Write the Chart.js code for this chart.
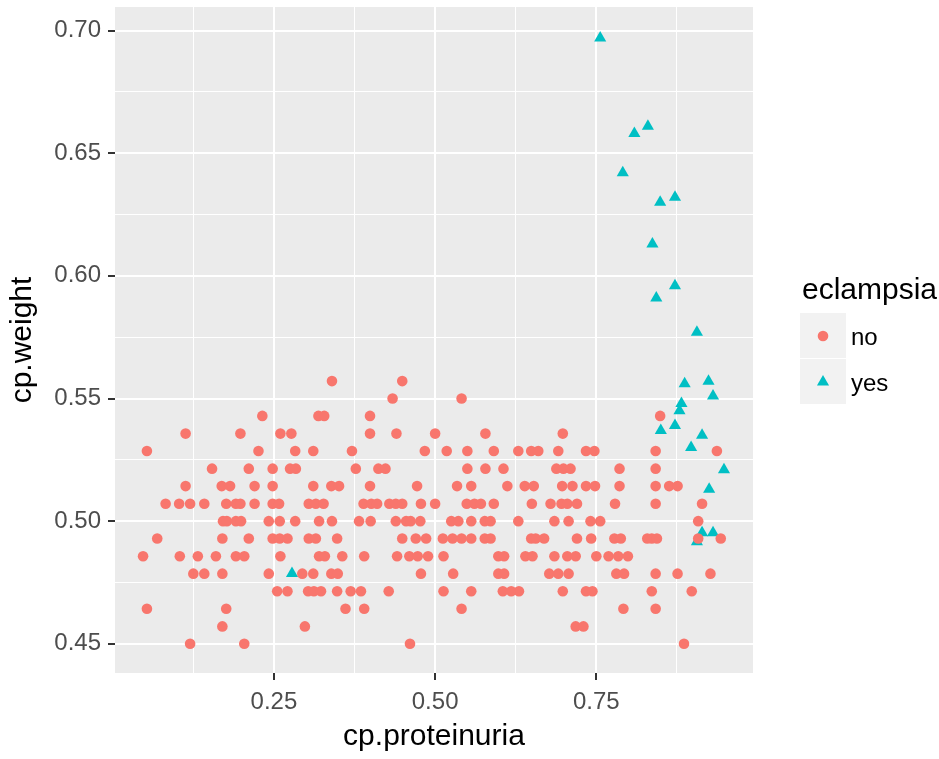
<!DOCTYPE html>
<html>
<head>
<meta charset="utf-8">
<title>cp.weight vs cp.proteinuria</title>
<script src="https://cdn.jsdelivr.net/npm/chart.js@4.4.1/dist/chart.umd.min.js"></script>
<style>
  html, body { margin: 0; padding: 0; background: #ffffff; }
  #wrap { width: 939px; height: 759px; }
</style>
</head>
<body>
<div id="wrap"><canvas id="plot" width="939" height="759"></canvas></div>
<script>
// Weight levels (cp.weight) observed in the "no" group, lowest first
const weightLevels = [0.4500, 0.4571, 0.4643, 0.4714, 0.4786, 0.4857, 0.4929, 0.5000,
                      0.5071, 0.5143, 0.5214, 0.5286, 0.5357, 0.5429, 0.5500, 0.5571];

// cp.proteinuria for each "no" subject, one row per weight level above
const noProteinuria = [
  [0.120, 0.204, 0.461, 0.886],
  [0.170, 0.298, 0.718, 0.730],
  [0.053, 0.176, 0.361, 0.390, 0.541, 0.792, 0.842],
  [0.255, 0.271, 0.303, 0.312, 0.323, 0.348, 0.369, 0.385, 0.428, 0.513, 0.556, 0.605, 0.618, 0.630, 0.698, 0.734, 0.744, 0.836, 0.898],
  [0.125, 0.142, 0.170, 0.242, 0.294, 0.311, 0.339, 0.349, 0.478, 0.528, 0.598, 0.607, 0.677, 0.691, 0.707, 0.781, 0.793, 0.842, 0.876, 0.927],
  [0.047, 0.104, 0.132, 0.160, 0.191, 0.204, 0.260, 0.320, 0.329, 0.356, 0.390, 0.441, 0.460, 0.473, 0.489, 0.513, 0.598, 0.607, 0.640, 0.651, 0.685, 0.705, 0.718, 0.750, 0.769, 0.784, 0.799],
  [0.069, 0.170, 0.211, 0.248, 0.259, 0.271, 0.304, 0.315, 0.348, 0.449, 0.470, 0.486, 0.512, 0.527, 0.541, 0.556, 0.577, 0.586, 0.649, 0.656, 0.669, 0.720, 0.742, 0.778, 0.788, 0.829, 0.836, 0.844, 0.908, 0.943],
  [0.171, 0.177, 0.191, 0.199, 0.242, 0.259, 0.283, 0.320, 0.340, 0.382, 0.400, 0.439, 0.455, 0.462, 0.477, 0.525, 0.536, 0.556, 0.577, 0.586, 0.629, 0.685, 0.707, 0.741, 0.756, 0.908],
  [0.082, 0.103, 0.120, 0.142, 0.176, 0.191, 0.198, 0.220, 0.248, 0.258, 0.304, 0.315, 0.327, 0.389, 0.401, 0.410, 0.429, 0.439, 0.449, 0.478, 0.500, 0.549, 0.561, 0.571, 0.591, 0.650, 0.679, 0.696, 0.705, 0.720, 0.779, 0.842, 0.914],
  [0.113, 0.169, 0.182, 0.220, 0.248, 0.311, 0.339, 0.351, 0.399, 0.472, 0.534, 0.556, 0.612, 0.639, 0.653, 0.697, 0.713, 0.734, 0.748, 0.786, 0.842, 0.863, 0.876],
  [0.154, 0.211, 0.248, 0.275, 0.284, 0.377, 0.412, 0.423, 0.550, 0.578, 0.606, 0.688, 0.699, 0.710, 0.786, 0.842],
  [0.053, 0.226, 0.283, 0.311, 0.371, 0.484, 0.518, 0.550, 0.591, 0.629, 0.649, 0.660, 0.691, 0.734, 0.747, 0.842, 0.937],
  [0.113, 0.198, 0.260, 0.277, 0.399, 0.440, 0.500, 0.578, 0.698],
  [0.232, 0.319, 0.328, 0.399, 0.849],
  [0.434, 0.541],
  [0.340, 0.449]
];

// "yes" subjects
const yesProteinuria = [0.756, 0.830, 0.809, 0.791, 0.872, 0.849, 0.837, 0.872, 0.843, 0.906,
                        0.887, 0.924, 0.931, 0.882, 0.879, 0.850, 0.872, 0.914, 0.897, 0.948,
                        0.925, 0.914, 0.931, 0.906, 0.278];
const yesWeight      = [0.697, 0.661, 0.658, 0.642, 0.632, 0.630, 0.613, 0.596, 0.591, 0.577,
                        0.556, 0.557, 0.551, 0.548, 0.545, 0.537, 0.539, 0.535, 0.530, 0.521,
                        0.513, 0.4953, 0.4953, 0.4916, 0.4787];

// Axis breaks: every other line is a labelled major break
const xBreaks = [0.125, 0.25, 0.375, 0.50, 0.625, 0.75, 0.875];
const xBreakLabels = ['', '0.25', '', '0.50', '', '0.75', ''];
const yBreaks = [0.45, 0.475, 0.50, 0.525, 0.55, 0.575, 0.60, 0.625, 0.65, 0.675, 0.70];
const yBreakLabels = ['0.45', '', '0.50', '', '0.55', '', '0.60', '', '0.65', '', '0.70'];

const groupNames = ['no', 'yes'];
const groupColors = ['#F8766D', '#00BFC4'];

const FONT = "'Liberation Sans', Arial, Helvetica, sans-serif";
Chart.defaults.font.family = FONT;

const noPoints = [];
noProteinuria.forEach((row, i) => row.forEach(x => noPoints.push({ x: x, y: weightLevels[i] })));
const yesPoints = yesProteinuria.map((x, i) => ({ x: x, y: yesWeight[i] }));

// grey panel behind the grid
const panelPlugin = {
  id: 'panel',
  beforeDraw(chart) {
    const a = chart.chartArea, c = chart.ctx;
    c.save();
    c.fillStyle = '#EBEBEB';
    c.fillRect(a.left, a.top, a.right - a.left, a.bottom - a.top);
    c.restore();
  }
};

function markPath(c, style, x, y, r) {
  c.beginPath();
  if (style === 'triangle') {
    c.moveTo(x, y - r);
    c.lineTo(x + 0.8660254 * r, y + 0.5 * r);
    c.lineTo(x - 0.8660254 * r, y + 0.5 * r);
    c.closePath();
  } else {
    c.arc(x, y, r, 0, Math.PI * 2);
  }
}

// legend on the right: title, grey key boxes, marks and labels
const legendPlugin = {
  id: 'groupLegend',
  afterDraw(chart) {
    const c = chart.ctx;
    c.save();
    c.textAlign = 'left';
    c.textBaseline = 'alphabetic';
    c.fillStyle = '#000000';
    c.font = '30px ' + FONT;
    c.fillText('eclampsia', 802, 299);
    groupNames.forEach((name, i) => {
      const top = 313 + i * 46;
      c.fillStyle = '#F2F2F2';
      c.fillRect(800, top, 46, 45);
      const ds = chart.data.datasets[i];
      c.fillStyle = groupColors[i];
      markPath(c, ds.pointStyle, 823, top + 23, ds.pointRadius);
      c.fill();
      c.fillStyle = '#000000';
      c.font = '24px ' + FONT;
      c.fillText(name, 851, top + 32);
    });
    c.restore();
  }
};

new Chart(document.getElementById('plot'), {
  type: 'scatter',
  data: {
    datasets: [
      { label: groupNames[0], data: noPoints, pointStyle: 'circle', pointRadius: 5.3, pointHoverRadius: 5.3,
        backgroundColor: groupColors[0], borderWidth: 0 },
      { label: groupNames[1], data: yesPoints, pointStyle: 'triangle', pointRadius: 7, pointHoverRadius: 7,
        backgroundColor: groupColors[1], borderWidth: 0 }
    ]
  },
  options: {
    responsive: false,
    animation: false,
    events: [],
    layout: { padding: { top: 6, right: 186, bottom: 0, left: 0 } },
    plugins: { legend: { display: false }, tooltip: { enabled: false } },
    scales: {
      x: {
        type: 'linear', min: 0.0035, max: 0.993,
        afterBuildTicks: s => { s.ticks = xBreaks.map(v => ({ value: v })); },
        afterFit: s => { s.height = 86; s.paddingLeft = 0; s.paddingRight = 0; },
        border: { display: false },
        grid: {
          color: '#FFFFFF',
          lineWidth: c => (xBreakLabels[c.index] ? 2 : 1),
          tickColor: c => (xBreakLabels[c.index] ? '#333333' : 'rgba(0,0,0,0)'),
          tickWidth: 2, tickLength: 7
        },
        ticks: { autoSkip: false, maxRotation: 0, padding: 8, color: '#4D4D4D',
                 font: { size: 24 }, callback: (v, i) => xBreakLabels[i] },
        title: { display: true, text: 'cp.proteinuria', color: '#000000',
                 font: { size: 30 }, padding: { top: 0, bottom: 4 } }
      },
      y: {
        type: 'linear', min: 0.4381, max: 0.7096,
        afterBuildTicks: s => { s.ticks = yBreaks.map(v => ({ value: v })); },
        afterFit: s => { s.width = 115; s.paddingTop = 0; s.paddingBottom = 0; },
        border: { display: false },
        grid: {
          color: '#FFFFFF',
          lineWidth: c => (yBreakLabels[c.index] ? 2 : 1),
          tickColor: c => (yBreakLabels[c.index] ? '#333333' : 'rgba(0,0,0,0)'),
          tickWidth: 2, tickLength: 7
        },
        ticks: { autoSkip: false, padding: 7, color: '#4D4D4D',
                 font: { size: 24 }, callback: (v, i) => yBreakLabels[i] },
        title: { display: true, text: 'cp.weight', color: '#000000',
                 font: { size: 30 }, padding: { top: 5, bottom: 0 } }
      }
    }
  },
  plugins: [panelPlugin, legendPlugin]
});
</script>
</body>
</html>
